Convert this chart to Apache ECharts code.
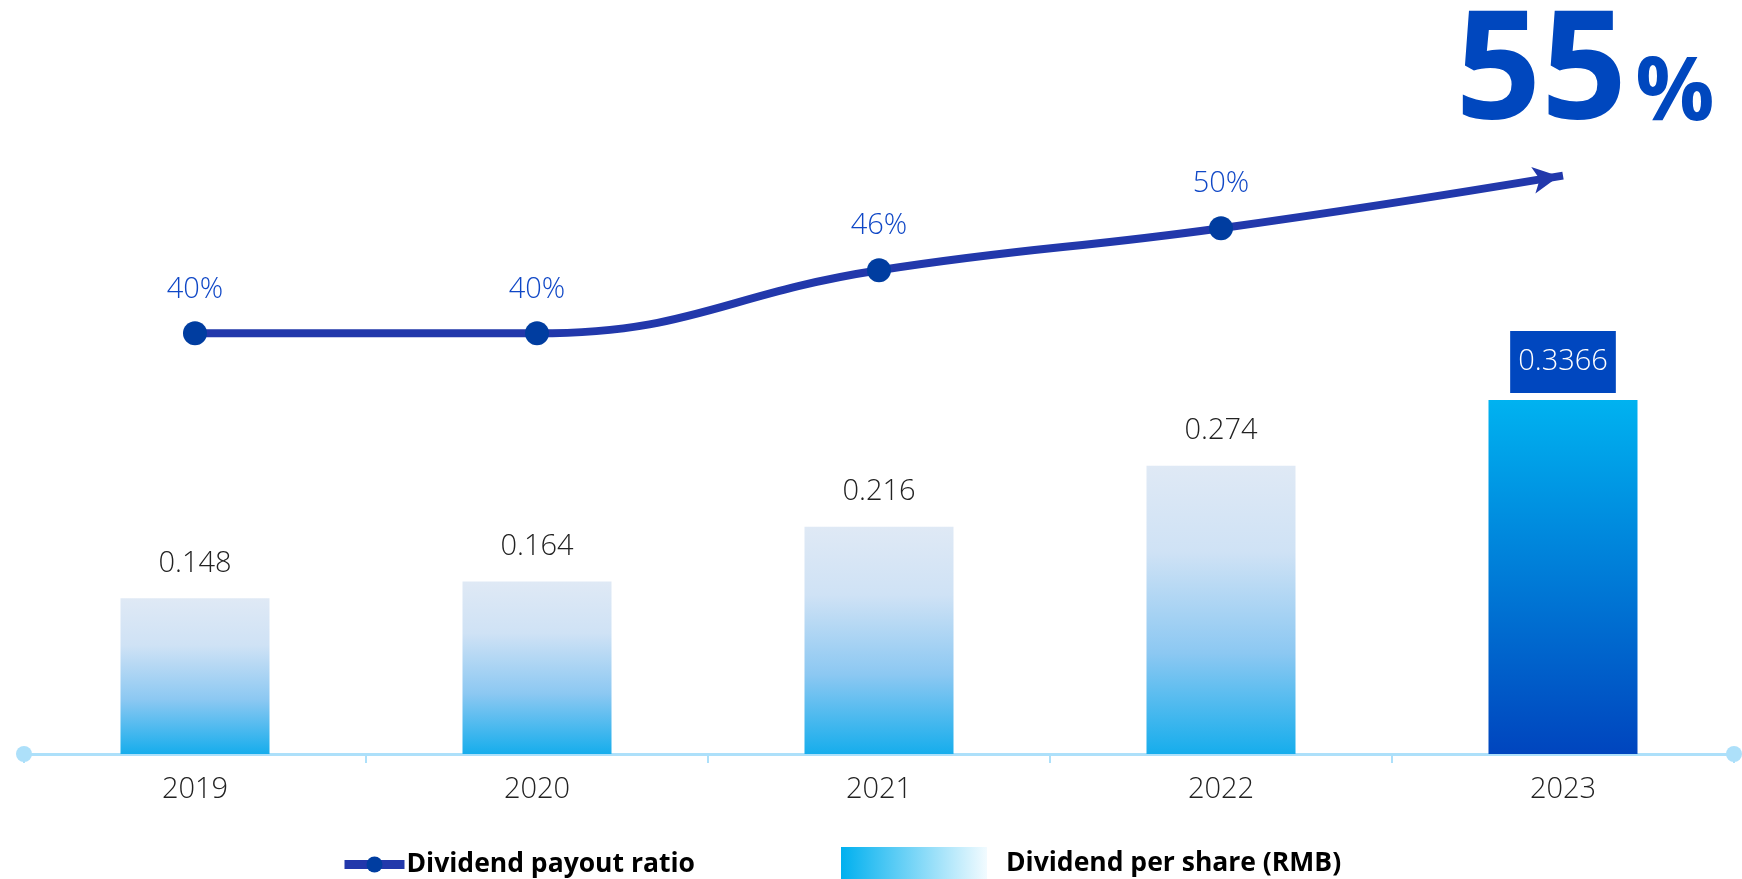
<!DOCTYPE html>
<html>
<head>
<meta charset="utf-8">
<script src="https://cdn.jsdelivr.net/npm/echarts@6/dist/echarts.min.js"></script>
<style>
  html, body { margin: 0; padding: 0; background: #ffffff; }
  #chart { width: 1742px; height: 879px; }
</style>
</head>
<body>
<div id="chart"></div>
<script>
// Fiscal years on the category axis
const years = ['2019', '2020', '2021', '2022', '2023'];
// Dividend per share, RMB
const dividendPerShare = [0.148, 0.164, 0.216, 0.274, 0.3366];
// Dividend payout ratio, percent
const payoutRatio = [40, 40, 46, 50, 55];

const FONT = "'Open Sans', 'Noto Sans', sans-serif";
const lastIdx = years.length - 1;

// Light bars fade from pale grey-blue at the top to cyan at the base
const lightBar = new echarts.graphic.LinearGradient(0, 0, 0, 1, [
  { offset: 0, color: '#DFE9F5' },
  { offset: 0.3, color: '#CFE2F5' },
  { offset: 0.65, color: '#8CC8F2' },
  { offset: 1, color: '#16ADEC' }
]);
// Latest year is highlighted: cyan top to deep blue base
const strongBar = new echarts.graphic.LinearGradient(0, 0, 0, 1, [
  { offset: 0, color: '#00B2F0' },
  { offset: 1, color: '#0045BE' }
]);

const barData = dividendPerShare.map((v, i) => {
  if (i !== lastIdx) return { value: v, itemStyle: { color: lightBar } };
  return {
    value: v,
    itemStyle: { color: strongBar },
    label: {
      color: '#ffffff',
      backgroundColor: '#0047BF',
      padding: [13, 8, 13, 8],
      lineHeight: 36,
      distance: 7
    }
  };
});

// Ratio line: dots on each year, an arrowhead at the final point
const lineData = payoutRatio.map((v, i) => {
  if (i !== lastIdx) return { value: v };
  return {
    value: v,
    symbol: 'arrow',
    symbolSize: [20, 26],
    symbolRotate: -81,
    symbolOffset: [-4, 0.6],
    itemStyle: { color: '#2238AB' },
    label: { show: false }
  };
});

const chart = echarts.init(document.getElementById('chart'), null, { renderer: 'canvas' });

chart.setOption({
  animation: false,
  textStyle: { fontFamily: FONT },
  grid: { left: 24, right: 8, top: 123, bottom: 125, containLabel: false },
  legend: [
    {
      left: 340,
      top: 851,
      padding: 0,
      itemWidth: 60,
      itemHeight: 20,
      itemGap: 0,
      selectedMode: false,
      lineStyle: { width: 9, color: '#2238AB' },
      itemStyle: { color: '#003DA0' },
      data: [{ name: 'Dividend payout ratio' }],
      textStyle: { fontFamily: FONT, fontSize: 26.5, fontWeight: 'bold', color: '#000000', padding: [0, 0, 0, -3] }
    },
    {
      left: 841,
      top: 847,
      padding: 0,
      itemWidth: 146,
      itemHeight: 32,
      itemGap: 0,
      selectedMode: false,
      data: [{
        name: 'Dividend per share (RMB)',
        icon: 'rect',
        itemStyle: {
          color: new echarts.graphic.LinearGradient(0, 0, 1, 0, [
            { offset: 0, color: '#00B0EF' },
            { offset: 1, color: '#F2FBFF' }
          ])
        }
      }],
      textStyle: { fontFamily: FONT, fontSize: 26.5, fontWeight: 'bold', color: '#000000', padding: [0, 0, 6, 14] }
    }
  ],
  xAxis: {
    type: 'category',
    data: years,
    boundaryGap: true,
    axisLine: {
      show: true,
      symbol: ['circle', 'circle'],
      symbolSize: [16, 16],
      lineStyle: { color: '#ADE0FA', width: 3 }
    },
    axisTick: { show: true, length: 9, lineStyle: { color: '#ADE0FA', width: 2 } },
    axisLabel: { fontFamily: FONT, fontSize: 29, fontWeight: 300, color: '#222222', margin: 18, lineHeight: 36 },
    splitLine: { show: false }
  },
  yAxis: [
    { type: 'value', min: 0, max: 0.6, show: false, splitLine: { show: false } },
    { type: 'value', min: 0, max: 60, show: false, splitLine: { show: false } }
  ],
  series: [
    {
      name: 'Dividend per share (RMB)',
      type: 'bar',
      yAxisIndex: 0,
      barWidth: 149,
      data: barData,
      label: {
        show: true,
        position: 'top',
        distance: 17,
        fontFamily: FONT,
        fontSize: 29,
        fontWeight: 300,
        lineHeight: 36,
        color: '#222222'
      },
      emphasis: { disabled: true }
    },
    {
      name: 'Dividend payout ratio',
      type: 'line',
      yAxisIndex: 1,
      smooth: 0.45,
      data: lineData,
      symbol: 'circle',
      symbolSize: 24,
      lineStyle: { color: '#2238AB', width: 8 },
      itemStyle: { color: '#003DA0' },
      label: {
        show: true,
        position: 'top',
        distance: 14,
        fontFamily: FONT,
        fontSize: 29,
        fontWeight: 300,
        lineHeight: 36,
        color: '#0F47C6',
        formatter: p => p.value + '%'
      },
      // Headline figure for the latest payout ratio
      markPoint: {
        silent: true,
        symbol: 'circle',
        symbolSize: 1,
        itemStyle: { color: 'rgba(0,0,0,0)' },
        data: [{ coord: [lastIdx, payoutRatio[lastIdx]], value: payoutRatio[lastIdx] }],
        label: {
          show: true,
          position: 'top',
          distance: 0,
          offset: [22, -24],
          formatter: p => '{n|' + p.value + '}{p|%}',
          rich: {
            n: { fontFamily: FONT, fontSize: 150, fontWeight: 'bold', color: '#0047BE', lineHeight: 150, verticalAlign: 'bottom' },
            p: { fontFamily: FONT, fontSize: 88, fontWeight: 'bold', color: '#0047BE', lineHeight: 150, verticalAlign: 'bottom', padding: [0, 0, 12, 8] }
          }
        }
      },
      emphasis: { disabled: true }
    }
  ]
});
</script>
</body>
</html>
